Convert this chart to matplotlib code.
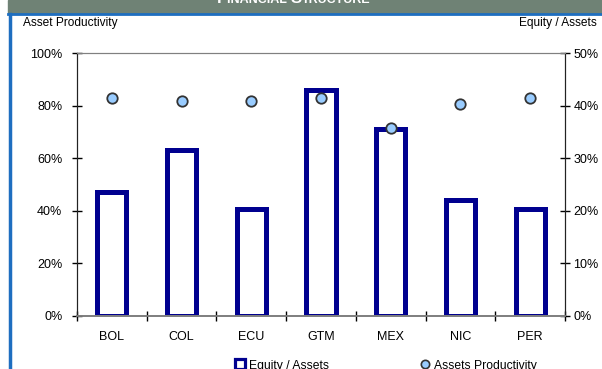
import matplotlib.pyplot as plt
import numpy as np
from matplotlib.lines import Line2D
from matplotlib.ticker import FixedLocator, PercentFormatter

plt.rcParams["font.family"] = ["Liberation Sans", "DejaVu Sans"]

countries = ["BOL", "COL", "ECU", "GTM", "MEX", "NIC", "PER"]
equity_assets = [23.6, 31.6, 20.3, 42.9, 35.6, 22.0, 20.4]          # % (right axis)
asset_productivity = [82.8, 81.9, 81.7, 82.8, 71.4, 80.6, 82.8]     # % (left axis)

navy = "#00008F"
dot_face = "#99CCFF"
dot_edge = "#333333"

fig = plt.figure(figsize=(6.02, 3.69), dpi=100)

# header banner with blue rule underneath and blue left border
fig.patches.append(plt.Rectangle((8 / 602, 1 - 13 / 369), 1, 13 / 369,
                                 transform=fig.transFigure, color="#6F8275", zorder=0))
fig.add_artist(Line2D([8 / 602, 1], [1 - 14 / 369] * 2, transform=fig.transFigure,
                      color="#1E6EC0", lw=2))
fig.add_artist(Line2D([9.5 / 602] * 2, [0, 1 - 14 / 369], transform=fig.transFigure,
                      color="#1E6EC0", lw=2.5))

# small-caps title, mostly clipped by the top edge
renderer = fig.canvas.get_renderer()
pieces = [("F", 12), ("INANCIAL ", 9), ("S", 12), ("TRUCTURE", 9)]
x_px = 217
for txt, size in pieces:
    t = fig.text(x_px / 602, 1 - 2.8 / 369, txt, color="white", fontsize=size,
                 fontweight="bold", ha="left", va="baseline")
    x_px += t.get_window_extent(renderer).width

ax = fig.add_axes([77 / 602, 1 - 316 / 369, 488 / 602, 263 / 369])
ax2 = ax.twinx()
ax.set_zorder(ax2.get_zorder() + 1)
ax.patch.set_visible(False)

x = np.arange(len(countries))

# equity / assets as hollow bars on the right axis
ax2.bar(x, equity_assets, width=0.42, facecolor="white", edgecolor=navy, linewidth=3.6)
ax2.set_ylim(0, 50)

# asset productivity as dots on the left axis
ax.plot(x, asset_productivity, "o", markersize=7.5, markerfacecolor=dot_face,
        markeredgecolor=dot_edge, markeredgewidth=1.3, clip_on=False)
ax.set_ylim(0, 100)
ax.set_xlim(-0.5, len(countries) - 0.5)

for a in (ax, ax2):
    a.yaxis.set_major_formatter(PercentFormatter(decimals=0))
    a.tick_params(axis="y", direction="inout", length=7, width=1, labelsize=9)
ax.tick_params(axis="y", pad=7)
ax2.tick_params(axis="y", pad=2.5)
ax.set_yticks(np.arange(0, 101, 20))
ax2.set_yticks(np.arange(0, 51, 10))

ax.set_xticks(x)
ax.set_xticklabels(countries)
ax.xaxis.set_minor_locator(FixedLocator(np.arange(-0.5, len(countries), 1)))
ax.tick_params(axis="x", which="major", length=0, labelsize=9, pad=11)
ax.tick_params(axis="x", which="minor", direction="inout", length=7, width=1)

for a in (ax, ax2):
    a.spines["top"].set_color("#808080")
    a.spines["bottom"].set_color("#808080")
    a.spines["bottom"].set_linewidth(1.3)
    a.spines["left"].set_color("#222222")
    a.spines["right"].set_color("#222222")

fig.text(23 / 602, 1 - 23 / 369, "Asset Productivity", fontsize=8.6, va="center", ha="left")
fig.text(597 / 602, 1 - 23 / 369, "Equity / Assets", fontsize=8.6, va="center", ha="right")

handles = [
    Line2D([], [], ls="none", marker="s", markersize=7, markerfacecolor="white",
           markeredgecolor=navy, markeredgewidth=2.3),
    Line2D([], [], ls="none", marker="o", markersize=6, markerfacecolor=dot_face,
           markeredgecolor=dot_edge, markeredgewidth=1.2),
]
fig.legend(handles, ["Equity / Assets", "Assets Productivity"], loc="center",
           bbox_to_anchor=(386 / 602, 1 - 365.5 / 369), ncol=2, frameon=False,
           fontsize=8.7, handlelength=0.8, handletextpad=0.3, columnspacing=7.6,
           borderpad=0)

fig.savefig("out.png", dpi=100)
